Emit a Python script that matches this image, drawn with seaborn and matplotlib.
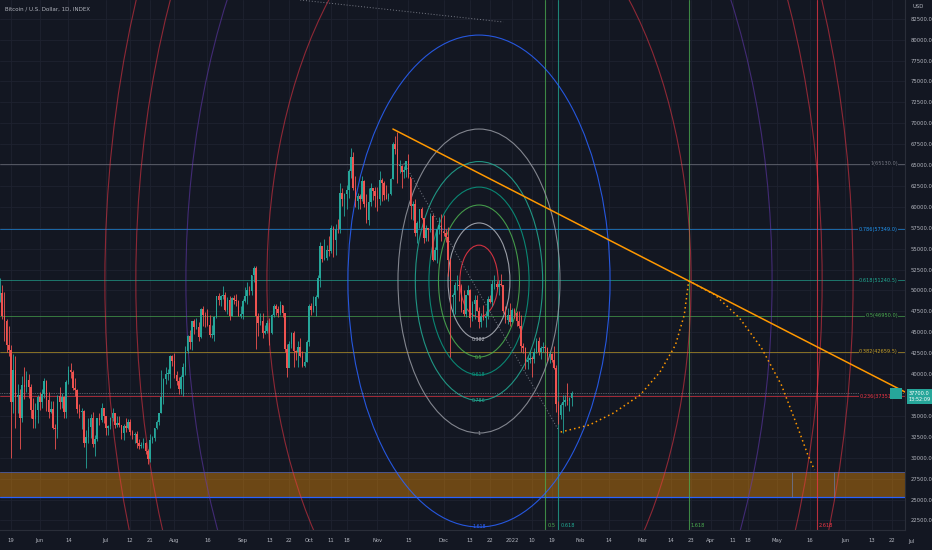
import matplotlib
matplotlib.use("Agg")
import matplotlib.pyplot as plt
import matplotlib.dates as mdates
from matplotlib.patches import Ellipse, Rectangle
import numpy as np
import pandas as pd
import seaborn as sns

# daily BTC candles, 2021-05-14 .. 2022-01-28
first_open = 49400
closes = [
    49700, 47000, 46400, 43500, 42900, 36700, 40500, 37300, 37500, 34700, 38700, 38400, 39300, 38400, 35700, 34600, 35700, 37300,
    36700, 37600, 39200, 36900, 35500, 35800, 33600, 33400, 37400, 36700, 37300, 35500, 39000, 40500, 40200, 38300, 38100, 35800, 35500, 35600, 31700, 32500, 33700, 34700, 31600, 32200, 34700, 34500, 35900, 35000,
    33500, 33800, 34700, 35300, 33900, 34200, 33900, 32900, 33800, 33500, 34300, 33100, 32700, 32800, 31800, 31400, 31500, 31800, 30800, 29800, 32100, 32300, 33600, 34300, 35400, 37300, 39400, 40000, 40000, 42200, 41600,
    39900, 39200, 38200, 39700, 40900, 42800, 44600, 43800, 46300, 45600, 45600, 44400, 47800, 47100, 47000, 45900, 44700, 44700, 46800, 49300, 48900, 49300, 49500, 47700, 48900, 47000, 49100, 48900, 48800, 47000, 47200,
    48800, 49300, 50000, 49900, 51800, 52700, 46900, 46100, 46400, 44900, 45200, 46100, 44900, 47100, 48100, 47800, 47300, 48300, 47300, 43000, 40700, 43600, 44900, 42800, 42700, 43200, 42200, 41000, 41500, 43800,
    48100, 47700, 48200, 49200, 51500, 55300, 53800, 53900, 54900, 54700, 57500, 56000, 57400, 57300, 61700, 60900, 61500, 62000, 64300, 66000, 62200, 60700, 61300, 60900, 63100, 60300, 58400, 60600, 62300, 61900, 61300,
    61000, 63200, 62900, 61400, 61000, 61500, 63300, 67500, 66900, 64900, 64900, 64200, 64400, 65500, 63600, 60100, 60400, 56900, 58100, 59700, 58700, 56300, 57500, 57200, 58900, 53600, 54800, 57300, 57800, 57000,
    56900, 56400, 53600, 49200, 49400, 50600, 50600, 50500, 47700, 47200, 49400, 50100, 46700, 48400, 48900, 47600, 46200, 46900, 46700, 46900, 49000, 48600, 50800, 50800, 50400, 50800, 50700, 47500, 46500, 47100, 46200,
    47700, 47300, 46400, 45800, 43400, 43100, 41500, 41700, 41900, 41800, 42700, 43900, 42600, 43100, 43200, 43100, 42200, 42400, 41700, 40700, 36400, 35100, 36300, 36700, 36900, 36800, 37200, 37700,
]
highs = [
    51500, 50600, 49800, 46600, 45800, 43500, 42400, 42200, 38800, 38200, 39800, 40800, 40400, 40000, 38800, 37200, 36500, 37500,
    37900, 38200, 39500, 39300, 37900, 36800, 36800, 34000, 37500, 38400, 37700, 37400, 39300, 41000, 41300, 40500, 39500, 38200, 36400, 36000, 35700, 33300, 34800, 35200, 35500, 32700, 34700, 35300, 36600, 36000,
    35000, 33900, 34900, 35900, 35300, 35000, 35000, 33900, 34000, 34700, 34600, 34600, 33300, 33100, 33200, 32200, 31900, 32400, 31900, 31100, 32800, 32600, 33600, 34500, 35400, 40500, 39500, 40800, 40600, 42300, 42300,
    42500, 40400, 39700, 39900, 41300, 43300, 44700, 45300, 46400, 46600, 46700, 46200, 47900, 48100, 47400, 47800, 47100, 45900, 47000, 49300, 49700, 49400, 50500, 49800, 49200, 49300, 49200, 49500, 49600, 48900, 48200,
    49000, 50400, 51000, 50500, 51900, 52900, 52900, 47300, 47300, 47300, 45900, 46500, 46700, 47200, 48400, 48400, 48100, 48800, 48300, 47300, 43600, 44000, 45000, 45100, 42900, 43900, 44300, 42800, 42600, 44100,
    48400, 48500, 49300, 49500, 51900, 55800, 55300, 56100, 55400, 56500, 57800, 57700, 58000, 58500, 62800, 62300, 61700, 62600, 64500, 67000, 66600, 63700, 61700, 61500, 63700, 63200, 61500, 62300, 62900, 62300, 62400,
    62400, 64300, 63500, 63100, 62600, 61600, 63400, 67800, 68500, 69000, 65600, 65000, 64900, 65500, 66300, 63500, 60700, 60900, 58300, 59800, 60000, 58700, 57800, 57500, 59300, 59100, 55200, 57400, 58800, 59200,
    59000, 57400, 57600, 53900, 49700, 51000, 51900, 51200, 50800, 50000, 49500, 50700, 50200, 48700, 49500, 49400, 48000, 47300, 48300, 47500, 49300, 49500, 51300, 51800, 51100, 51200, 52000, 50700, 48100, 47900, 48500,
    47900, 47900, 47600, 47500, 47100, 43700, 43200, 42300, 42800, 42200, 43100, 44300, 44400, 43400, 43800, 43500, 43200, 42700, 42500, 43400, 41100, 36800, 36500, 37500, 37500, 38900, 37300, 38000,
]
lows = [
    48600, 46600, 43900, 42600, 42200, 30000, 35300, 33500, 35300, 31100, 34300, 37000, 37800, 37200, 34800, 33600, 33500, 34200,
    35700, 35900, 37200, 35600, 34800, 35300, 33400, 31000, 32400, 35800, 35900, 34800, 34800, 38800, 39500, 38100, 37400, 35300, 34800, 33400, 31300, 28800, 31700, 32300, 31300, 30200, 32000, 33900, 34300, 34100,
    32700, 32700, 33400, 34400, 33500, 33700, 33700, 32200, 32100, 33100, 33400, 32700, 32200, 31800, 31200, 31100, 31200, 31200, 30500, 29300, 29500, 31800, 32000, 33400, 33900, 35300, 36400, 38800, 39300, 38300, 41000,
    39500, 38700, 37600, 37600, 37400, 39900, 42500, 43000, 42900, 44800, 45400, 43900, 44300, 45800, 45600, 45700, 44400, 44300, 43900, 46700, 48300, 48100, 49000, 47600, 47200, 46500, 46900, 48400, 48100, 46900, 46700,
    46600, 48600, 48400, 49500, 49500, 51000, 43000, 44500, 45900, 44300, 44800, 44900, 43500, 44800, 46800, 47100, 46800, 47100, 46800, 42600, 39600, 40800, 43100, 40800, 41700, 40800, 42100, 40900, 40800, 41400,
    43300, 47100, 47400, 46900, 49100, 50400, 53400, 53700, 53700, 54100, 54500, 54000, 54300, 56900, 56900, 60100, 58900, 59800, 61100, 63500, 62000, 60000, 59700, 59700, 60700, 60000, 58100, 57800, 60100, 60800, 60000,
    59500, 60200, 60700, 60800, 60900, 60700, 61400, 63300, 66300, 62800, 64100, 62300, 63500, 63600, 63400, 58600, 58400, 56500, 55700, 57500, 58500, 55700, 55900, 55900, 57000, 53500, 53600, 53300, 56800, 55900,
    56500, 55800, 51700, 42000, 47100, 47200, 50100, 48700, 47400, 46900, 46800, 49400, 45600, 46400, 46600, 47500, 45500, 45600, 46500, 45600, 46600, 48500, 48100, 50200, 50200, 49500, 50500, 47300, 46100, 46000, 45700,
    46200, 46700, 45700, 45500, 42700, 42500, 40600, 40600, 41300, 39700, 41300, 42500, 42300, 41800, 42600, 42600, 41600, 41300, 41500, 40600, 35500, 34000, 34600, 33000, 36200, 36300, 35600, 36200,
]
start_day = "2021-05-14"

# fib retracement
fib_levels = [1, 0.786, 0.618, 0.5, 0.382, 0.236]
fib_colors = ["#787b86", "#2196f3", "#22ab94", "#4caf50", "#c9a227", "#f23645"]
fib_low, fib_high = 28770, 65130

# fib circles
circle_center = ("2021-12-17", 51130)
circle_rx_days, circle_ry_price = 36.7, 18180
circle_levels = [0.236, 0.382, 0.5, 0.618, 0.786, 1, 1.618, 2.618, 3.618, 4.236, 4.618]
circle_colors = ["#f23645", "#b2b5be", "#4caf50", "#089981", "#22ab94", "#9598a1",
                 "#2962ff", "#f23645", "#673ab7", "#f23645", "#f23645"]
circle_labels = ["0.382", "0.5", "0.618", "0.786", "1", "1.618"]
circle_diag_dates = ["2021-11-13", "2022-01-22"]
circle_diag_prices = [65250, 33310]

# fib time zones
time_dates = ["2022-01-16", "2022-01-22", "2022-03-22", "2022-05-19"]
time_labels = ["0.5", "0.618", "1.618", "2.618"]
time_colors = ["#4caf50", "#22ab94", "#4caf50", "#f23645"]

# trend line and dotted arcs
trend_dates = ["2021-11-08", "2022-06-28"]
trend_prices = [69310, 37860]
arc1_dates = ["2022-01-23", "2022-02-05", "2022-02-16", "2022-02-28", "2022-03-09", "2022-03-16", "2022-03-20", "2022-03-22"]
arc1_prices = [33070, 33910, 35350, 37500, 40250, 43480, 47070, 51150]
arc2_dates = ["2022-03-22", "2022-04-03", "2022-04-14", "2022-04-24", "2022-05-03", "2022-05-10", "2022-05-15", "2022-05-18"]
arc2_prices = [51150, 49460, 46710, 43120, 38700, 33910, 30320, 28530]
top_dot_dates = ["2021-09-27", "2021-12-28"]
top_dot_prices = [84740, 82110]

# zone
band_low, band_high = 25300, 28290
band_mark_dates = ["2022-05-08", "2022-05-27"]

tick_dates = ["2021-05-19", "2021-06-01", "2021-06-14", "2021-07-01", "2021-07-12", "2021-07-21",
              "2021-08-01", "2021-08-16", "2021-09-01", "2021-09-13", "2021-09-22", "2021-10-01",
              "2021-10-11", "2021-10-18", "2021-11-01", "2021-11-15", "2021-12-01", "2021-12-13",
              "2021-12-22", "2022-01-01", "2022-01-10", "2022-01-19", "2022-02-01", "2022-02-14",
              "2022-03-01", "2022-03-14", "2022-03-23", "2022-04-01", "2022-04-11", "2022-04-18",
              "2022-05-01", "2022-05-16", "2022-06-01", "2022-06-13", "2022-06-22"]
tick_labels = ["19", "Jun", "14", "Jul", "12", "21", "Aug", "16", "Sep", "13", "22", "Oct",
               "11", "18", "Nov", "15", "Dec", "13", "22", "2022", "10", "19", "Feb", "14",
               "Mar", "14", "23", "Apr", "11", "18", "May", "16", "Jun", "13", "22"]
price_ticks = list(range(22500, 85000, 2500))
hidden_tick = 37500  # covered by the last-price tag

BG = "#131722"
TXT = "#b2b5be"
UP, DOWN = "#26a69a", "#ef5350"

sns.set_style("dark")
plt.rcParams["font.family"] = ["DejaVu Sans"]

fig = plt.figure(figsize=(9.32, 5.5), dpi=100, facecolor=BG)
ax = fig.add_axes([0, 20 / 550, 905 / 932, 530 / 550], facecolor=BG)

dates = pd.date_range(start_day, periods=len(closes), freq="D")
opens = [first_open] + closes[:-1]
df = pd.DataFrame({"date": dates, "open": opens, "close": closes, "high": highs, "low": lows})
df["color"] = np.where(df["close"] >= df["open"], UP, DOWN)

# zone
ax.axhspan(band_low, band_high, facecolor="#ff9800", alpha=0.38, lw=0, zorder=1)
ax.axhline(band_low, color="#2962ff", lw=0.9, zorder=1.5)
ax.axhline(band_high, color="#2962ff", lw=0.6, alpha=0.6, zorder=1.5)
ax.vlines(pd.to_datetime(band_mark_dates), band_low, band_high, color="#6a7390", lw=0.6, zorder=1.5)

# fib retracement
for lvl, c in zip(fib_levels, fib_colors):
    p = fib_low + lvl * (fib_high - fib_low)
    ax.axhline(p, color=c, lw=0.6, alpha=0.75, zorder=2)
    ax.text(0.992, p, f"{lvl}({p:.1f})", transform=ax.get_yaxis_transform(), ha="right", va="center",
            fontsize=3.6, color=c, zorder=6, bbox=dict(boxstyle="square,pad=0.1", fc=BG, ec="none"))

# fib time zones
for d, lab, c in zip(time_dates, time_labels, time_colors):
    ax.axvline(pd.Timestamp(d), color=c, lw=0.8, alpha=0.75, zorder=2)
    ax.text(pd.Timestamp(d) + pd.Timedelta(days=1), 0.004, lab, transform=ax.get_xaxis_transform(),
            fontsize=3.6, color=c, ha="left", va="bottom", zorder=6)

# fib circles
cx = mdates.date2num(pd.Timestamp(circle_center[0]))
cy = circle_center[1]
for lvl, c in zip(circle_levels, circle_colors):
    a = 0.85 if lvl <= 1.618 else 0.55
    ax.add_patch(Ellipse((cx, cy), 2 * circle_rx_days * lvl, 2 * circle_ry_price * lvl,
                         fill=False, ec=c, lw=0.8, alpha=a, zorder=2.5))
    if f"{lvl}" in circle_labels:
        ax.text(cx, cy - circle_ry_price * lvl, f"{lvl}", ha="center", va="center", fontsize=3.4,
                color=c, zorder=6)
ax.plot(pd.to_datetime(circle_diag_dates), circle_diag_prices, color="#787b86", lw=0.7, ls=(0, (1, 2)), zorder=3)
ax.plot(pd.to_datetime(top_dot_dates), top_dot_prices, color="#787b86", lw=0.7, ls=(0, (1, 2)), zorder=3)

# candles
ax.vlines(df["date"], df["low"], df["high"], colors=df["color"], lw=0.6, zorder=4)
ax.bar(df["date"], (df["close"] - df["open"]).abs().clip(lower=80),
       bottom=df[["open", "close"]].min(axis=1), width=0.7, color=df["color"], lw=0, zorder=4.5)

# trend line + projected arcs
sns.lineplot(x=pd.to_datetime(trend_dates), y=trend_prices, color="#ff9800", lw=1.1, ax=ax, zorder=5)
sns.lineplot(x=pd.to_datetime(arc1_dates), y=arc1_prices, sort=False, color="#ff9800", lw=1.1,
             ls=(0, (1, 2)), ax=ax, zorder=5)
sns.lineplot(x=pd.to_datetime(arc2_dates), y=arc2_prices, sort=False, color="#ff9800", lw=1.1,
             ls=(0, (1, 2)), ax=ax, zorder=5)

# last price line
ax.axhline(closes[-1], color="#9598a1", lw=0.5, ls=(0, (1, 1.5)), zorder=3)

ax.set_xlim(pd.Timestamp("2021-05-14"), pd.Timestamp("2022-06-28"))
ax.set_ylim(21354, 84740)
ax.set_xticks(pd.to_datetime(tick_dates))
ax.set_xticklabels(tick_labels)
ax.set_yticks(price_ticks)
ax.set_yticklabels(["" if v == hidden_tick else f"{v:.1f}" for v in price_ticks])
ax.yaxis.tick_right()
ax.tick_params(axis="x", length=0, pad=6, labelsize=3.8, labelcolor=TXT)
ax.tick_params(axis="y", length=0, pad=4, labelsize=3.8, labelcolor=TXT)
ax.grid(True, color="#1e2230", lw=0.6)
ax.set_xlabel("")
ax.set_ylabel("")
for s in ["top", "left"]:
    ax.spines[s].set_visible(False)
for s in ["right", "bottom"]:
    ax.spines[s].set_color("#2a2e39")
    ax.spines[s].set_linewidth(0.8)

ax.text(pd.Timestamp("2022-07-01"), -0.021, "Jul", transform=ax.get_xaxis_transform(), fontsize=3.8,
        color=TXT, ha="center", va="center", clip_on=False)

# last price labels
ax.annotate(f"{closes[-1]:.1f}\n13:52:09", xy=(1.0, closes[-1]), xycoords=("axes fraction", "data"),
            xytext=(2.5, 1.5), textcoords="offset points", ha="left", va="top", fontsize=3.6,
            color="white", annotation_clip=False,
            bbox=dict(boxstyle="square,pad=0.35", fc="#26a69a", ec="none"))
ax.add_patch(Rectangle((0.997, closes[-1] - 650), -0.014, 1300, transform=ax.get_yaxis_transform(),
                       fc="#26a69a", ec="none", zorder=7, clip_on=False))

fig.text(5 / 932, 1 - 9 / 550, "Bitcoin / U.S. Dollar, 1D, INDEX", fontsize=4, color=TXT, va="center")
fig.text(918 / 932, 1 - 6 / 550, "USD", fontsize=3.8, color=TXT, va="center", ha="center")

fig.savefig("out.png", dpi=100, facecolor=BG)
